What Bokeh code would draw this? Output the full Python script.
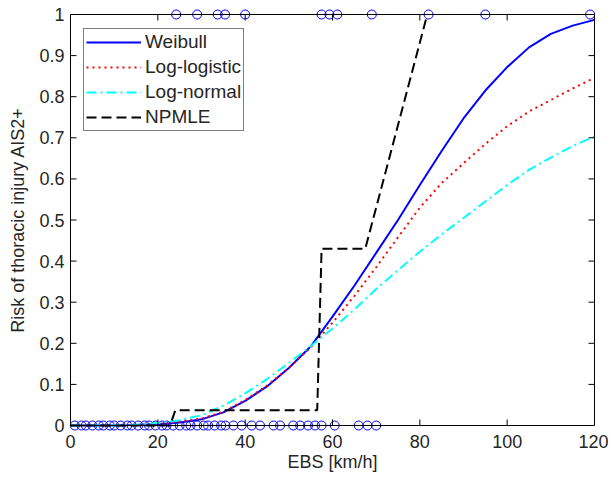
from bokeh.plotting import figure
from bokeh.models import FixedTicker, Legend, LegendItem, Range1d
from bokeh.embed import file_html
from bokeh.resources import INLINE

# ---------------- data ----------------
ebs = [0, 5, 10, 15, 20, 25, 30, 35, 40, 45, 50, 55, 60, 65, 70, 75, 80, 85,
       90, 95, 100, 105, 110, 115, 120]
weibull = [0.0, 0.0, 0.0, 0.001, 0.003, 0.007, 0.015, 0.032, 0.06, 0.095,
           0.14, 0.192, 0.265, 0.34, 0.42, 0.50, 0.585, 0.668, 0.747, 0.815,
           0.872, 0.92, 0.953, 0.973, 0.987]
loglogistic = [0.0, 0.0, 0.0, 0.001, 0.004, 0.009, 0.017, 0.033, 0.062, 0.097,
               0.14, 0.19, 0.25, 0.315, 0.385, 0.458, 0.53, 0.59, 0.638,
               0.685, 0.728, 0.764, 0.792, 0.82, 0.846]
lognormal = [0.0, 0.0, 0.0, 0.002, 0.006, 0.013, 0.025, 0.048, 0.078, 0.113,
             0.152, 0.193, 0.236, 0.282, 0.332, 0.378, 0.423, 0.465, 0.505,
             0.545, 0.585, 0.622, 0.652, 0.68, 0.703]
npmle_x = [0, 22.8, 24, 56.5, 57.5, 67.5, 81.7]
npmle_y = [0, 0, 0.037, 0.037, 0.43, 0.43, 1.0]

injured_ebs = [24.2, 29, 33.7, 35.4, 40, 57.5, 59.3, 61.1, 69, 82, 95, 119]
uninjured_ebs = [1, 2.5, 3.5, 5, 6.5, 7.5, 9, 10, 11.5, 13, 14, 15.5, 17, 18,
                 19.5, 21, 22, 23.5, 25, 26.5, 27.5, 29, 30.5, 31.5, 33, 34.5,
                 35.5, 37.3, 39.2, 41.5, 43.4, 46.5, 48, 51, 52.6, 54.4, 56,
                 57.5, 60.5, 66, 68, 70]
injured_risk = [1.0] * len(injured_ebs)
uninjured_risk = [0.0] * len(uninjured_ebs)

x_ticks = [0, 20, 40, 60, 80, 100, 120]
y_ticks = [0, 0.1, 0.2, 0.3, 0.4, 0.5, 0.6, 0.7, 0.8, 0.9, 1]
x_lo, x_hi = 0, 120
y_lo, y_hi = 0, 1

FONT = "Liberation Sans"
TXT = "#262626"

# The frame is PAD px larger than the axes box on every side so that the
# observation markers sitting on the box edges are drawn whole.
PAD = 6
BOX_W, BOX_H = 524, 411
TICK = 6
xpx = (x_hi - x_lo) / BOX_W   # data units per pixel
ypx = (y_hi - y_lo) / BOX_H

p = figure(width=608, height=477,
           x_range=Range1d(x_lo - PAD * xpx, x_hi + PAD * xpx),
           y_range=Range1d(y_lo - PAD * ypx, y_hi + PAD * ypx),
           output_backend="svg", toolbar_location=None,
           min_border_left=64, min_border_right=8, min_border_top=8,
           min_border_bottom=46)
p.xgrid.visible = False
p.ygrid.visible = False
p.outline_line_color = None
p.background_fill_color = "white"
p.border_fill_color = "white"

# axes: labels only (the box and the inward ticks are drawn below)
for ax, ticks in ((p.xaxis[0], x_ticks), (p.yaxis[0], y_ticks)):
    ax.ticker = FixedTicker(ticks=ticks)
    ax.axis_line_color = None
    ax.major_tick_line_color = None
    ax.minor_tick_line_color = None
    ax.major_tick_in = 0
    ax.major_tick_out = 0
    ax.major_label_text_font = FONT
    ax.major_label_text_font_size = "18px"
    ax.major_label_text_color = TXT
    ax.axis_label_text_font = FONT
    ax.axis_label_text_font_size = "18px"
    ax.axis_label_text_font_style = "normal"
    ax.axis_label_text_color = TXT

p.yaxis[0].major_label_overrides = {0: "0", 1: "1"}
p.xaxis[0].axis_label = "EBS [km/h]"
p.yaxis[0].axis_label = "Risk of thoracic injury AIS2+"
p.xaxis[0].major_label_standoff = 3
p.xaxis[0].axis_label_standoff = 1
p.yaxis[0].major_label_standoff = 0
p.yaxis[0].axis_label_standoff = 8

# observations (drawn first, like the reference)
p.scatter(uninjured_ebs, uninjured_risk, marker="circle", size=9,
          line_color="#0000ff", fill_color=None, line_width=1)
p.scatter(injured_ebs, injured_risk, marker="circle", size=9,
          line_color="#0000ff", fill_color=None, line_width=1)

# fitted curves
r_w = p.line(ebs, weibull, line_color="#0000ff", line_width=2)
r_ll = p.line(ebs, loglogistic, line_color="#ff0000", line_width=2, line_dash="2 4")
r_ln = p.line(ebs, lognormal, line_color="#00ffff", line_width=2, line_dash="10 4 2 4")
r_np = p.line(npmle_x, npmle_y, line_color="black", line_width=2, line_dash="10 5")

# axes box and inward ticks on all four sides
p.quad(left=[x_lo], right=[x_hi], bottom=[y_lo], top=[y_hi],
       fill_color=None, line_color="black", line_width=1)
xt = [t for t in x_ticks if x_lo < t < x_hi]
yt = [t for t in y_ticks if y_lo < t < y_hi]
p.segment(x0=xt, y0=[y_lo] * len(xt), x1=xt, y1=[y_lo + TICK * ypx] * len(xt),
          line_color="black", line_width=1)
p.segment(x0=xt, y0=[y_hi] * len(xt), x1=xt, y1=[y_hi - TICK * ypx] * len(xt),
          line_color="black", line_width=1)
p.segment(x0=[x_lo] * len(yt), y0=yt, x1=[x_lo + TICK * xpx] * len(yt), y1=yt,
          line_color="black", line_width=1)
p.segment(x0=[x_hi] * len(yt), y0=yt, x1=[x_hi - TICK * xpx] * len(yt), y1=yt,
          line_color="black", line_width=1)

legend = Legend(items=[
    LegendItem(label="Weibull", renderers=[r_w]),
    LegendItem(label="Log-logistic", renderers=[r_ll]),
    LegendItem(label="Log-normal", renderers=[r_ln]),
    LegendItem(label="NPMLE", renderers=[r_np]),
], location=(19, 300), margin=0, padding=2, spacing=3,
    glyph_width=55, glyph_height=20, label_height=20, label_standoff=4,
    label_text_font=FONT, label_text_font_size="19px", label_text_color=TXT,
    border_line_color="black", border_line_width=1, background_fill_color="white",
    background_fill_alpha=1.0)
p.add_layout(legend, "center")

open("out.html", "w").write(file_html(p, INLINE))
